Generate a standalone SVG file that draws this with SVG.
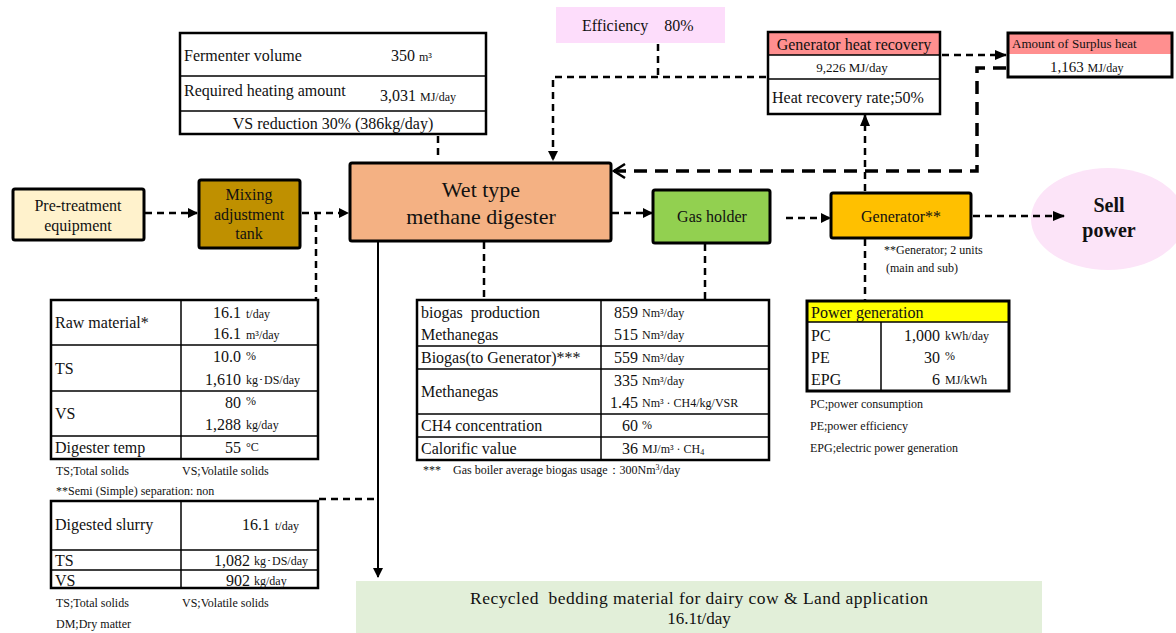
<svg xmlns="http://www.w3.org/2000/svg" width="1176" height="633" viewBox="0 0 1176 633" font-family="'Liberation Serif', 'DejaVu Serif', serif">
<defs>
<marker id="arr" markerWidth="10" markerHeight="10" refX="9" refY="5" orient="auto" markerUnits="userSpaceOnUse" viewBox="0 0 10 10">
<path d="M0,0 L10,5 L0,10 z" fill="#000"/>
</marker>
<marker id="arrS" markerWidth="12" markerHeight="12" refX="11" refY="6" orient="auto" markerUnits="userSpaceOnUse" viewBox="0 0 12 12">
<path d="M0,1 L12,6 L0,11 z" fill="#000"/>
</marker>
<marker id="chev" markerWidth="16" markerHeight="16" refX="14" refY="8" orient="auto" markerUnits="userSpaceOnUse" viewBox="0 0 16 16">
<path d="M3,1 L14,8 L3,15" fill="none" stroke="#000" stroke-width="2.5"/>
</marker>
</defs>
<style>
text{font-family:'Liberation Serif','DejaVu Serif',serif;fill:#111;}
.t{font-size:16px;}
.s{font-size:12px;}
.n{font-size:12px;}
.c{text-anchor:middle;}
.e{text-anchor:end;}
.dash{fill:none;stroke:#000;stroke-width:2.5;stroke-dasharray:7,5;}
.dashb{fill:none;stroke:#000;stroke-width:3.5;stroke-dasharray:13,8;}
.sol{fill:none;stroke:#000;stroke-width:2;}
.box{stroke:#000;stroke-width:3;}
.tb{fill:#fff;stroke:#000;stroke-width:2.5;}
.ln{stroke:#000;stroke-width:1.5;}
</style>

<g id="fermenter-table">
<rect class="tb" x="180" y="33" width="306" height="101"/>
<line class="ln" x1="180" y1="76" x2="486" y2="76"/>
<line class="ln" x1="180" y1="111" x2="486" y2="111"/>
<text class="t" x="184" y="61">Fermenter volume</text>
<text class="t" x="391" y="61">350 <tspan class="s">m³</tspan></text>
<text class="t" x="184" y="96">Required heating amount</text>
<text class="t" x="380" y="101">3,031 <tspan class="s">MJ/day</tspan></text>
<text class="t c" x="333" y="129">VS reduction 30% (386kg/day)</text>
</g>

<g id="efficiency">
<rect x="556" y="7" width="169" height="36" fill="#FDDDFB"/>
<text class="t" x="582" y="31" xml:space="preserve">Efficiency    80%</text>
</g>

<g id="heat-recovery">
<rect x="768" y="32" width="172" height="82" fill="#fff"/>
<rect x="768" y="32" width="172" height="23" fill="#FF8F8F"/>
<rect x="768" y="32" width="172" height="82" fill="none" stroke="#000" stroke-width="2.5"/>
<line class="ln" x1="768" y1="55" x2="940" y2="55"/>
<line class="ln" x1="768" y1="79" x2="940" y2="79"/>
<text class="t c" x="854" y="50">Generator heat recovery</text>
<text class="c" x="852" y="72" font-size="13">9,226 MJ/day</text>
<text class="t" x="772" y="103">Heat recovery rate;50%</text>
</g>

<g id="surplus-heat">
<rect x="1008" y="33" width="164" height="44" fill="#fff"/>
<rect x="1008" y="33" width="164" height="21" fill="#FF8F8F"/>
<rect x="1008" y="33" width="164" height="44" fill="none" stroke="#000" stroke-width="3"/>
<text x="1012" y="48" font-size="13">Amount of Surplus heat</text>
<text x="1050" y="72" font-size="15">1,163 <tspan font-size="12">MJ/day</tspan></text>
</g>

<g id="pretreatment">
<rect class="box" x="13" y="189" width="131" height="51" rx="2" fill="#FFF2CC"/>
<text class="t c" x="78" y="211">Pre-treatment</text>
<text class="t c" x="78" y="231">equipment</text>
</g>

<g id="mixing-tank">
<rect class="box" x="199" y="180" width="101" height="68" rx="2" fill="#BF9000"/>
<text class="t c" x="249" y="200">Mixing</text>
<text class="t c" x="249" y="220">adjustment</text>
<text class="t c" x="249" y="239">tank</text>
</g>

<g id="digester">
<rect class="box" x="350" y="163" width="261" height="78" rx="2" fill="#F4B183"/>
<text class="c" x="481" y="197" font-size="22">Wet type</text>
<text class="c" x="481" y="224" font-size="22">methane digester</text>
</g>

<g id="gas-holder">
<rect class="box" x="653" y="190" width="117" height="53" rx="2" fill="#92D050"/>
<text class="c" x="712" y="222" font-size="16">Gas holder</text>
</g>

<g id="generator">
<rect class="box" x="831" y="193" width="140" height="45" rx="2" fill="#FFC000"/>
<text class="c" x="901" y="222" font-size="16">Generator**</text>
<text class="n" x="884" y="254">**Generator; 2 units</text>
<text class="n" x="886" y="272">(main and sub)</text>
</g>

<g id="sell-power">
<ellipse cx="1108" cy="219" rx="77" ry="51" fill="#FCE4F8"/>
<text class="c" x="1109" y="212" font-size="20" font-weight="bold">Sell</text>
<text class="c" x="1109" y="237" font-size="20" font-weight="bold">power</text>
</g>

<g id="raw-material-table">
<rect class="tb" x="51" y="300" width="267" height="159"/>
<line class="ln" x1="181" y1="300" x2="181" y2="459"/>
<line class="ln" x1="51" y1="345" x2="318" y2="345"/>
<line class="ln" x1="51" y1="391" x2="318" y2="391"/>
<line class="ln" x1="51" y1="436" x2="318" y2="436"/>
<text class="t" x="55" y="328">Raw material*</text>
<text class="t e" x="241" y="318">16.1</text><text class="s" x="246" y="318">t/day</text>
<text class="t e" x="241" y="339">16.1</text><text class="s" x="246" y="339">m³/day</text>
<text class="t" x="55" y="374">TS</text>
<text class="t e" x="241" y="362">10.0</text><text class="s" x="246" y="360">%</text>
<text class="t e" x="241" y="385">1,610</text><text class="s" x="246" y="384">kg･DS/day</text>
<text class="t" x="55" y="419">VS</text>
<text class="t e" x="241" y="408">80</text><text class="s" x="246" y="405">%</text>
<text class="t e" x="241" y="430">1,288</text><text class="s" x="246" y="429">kg/day</text>
<text class="t" x="55" y="453">Digester temp</text>
<text class="t e" x="241" y="453">55</text><text class="s" x="246" y="451">°C</text>
<text class="n" x="56" y="475">TS;Total solids</text>
<text class="n" x="182" y="475">VS;Volatile solids</text>
<text class="n" x="56" y="495">**Semi (Simple) separation: non</text>
</g>

<g id="slurry-table">
<rect class="tb" x="51" y="501" width="267" height="87"/>
<line class="ln" x1="181" y1="501" x2="181" y2="588"/>
<line class="ln" x1="51" y1="550" x2="318" y2="550"/>
<line class="ln" x1="51" y1="570" x2="318" y2="570"/>
<text class="t" x="55" y="530">Digested slurry</text>
<text class="t e" x="270" y="530">16.1</text><text class="s" x="275" y="530">t/day</text>
<text class="t e" x="250" y="566">1,082</text><text class="s" x="254" y="565">kg･DS/day</text>
<text class="t" x="55" y="566">TS</text>
<text class="t" x="55" y="586">VS</text>
<text class="t e" x="250" y="586">902</text><text class="s" x="254" y="585">kg/day</text>
<text class="n" x="56" y="607">TS;Total solids</text>
<text class="n" x="182" y="607">VS;Volatile solids</text>
<text class="n" x="56" y="628">DM;Dry matter</text>
</g>

<g id="biogas-table">
<rect class="tb" x="417" y="300" width="352" height="160"/>
<line class="ln" x1="601" y1="300" x2="601" y2="460"/>
<line class="ln" x1="417" y1="346" x2="769" y2="346"/>
<line class="ln" x1="417" y1="369" x2="769" y2="369"/>
<line class="ln" x1="417" y1="414" x2="769" y2="414"/>
<line class="ln" x1="417" y1="437" x2="769" y2="437"/>
<text class="t" x="421" y="318" xml:space="preserve">biogas  production</text>
<text class="t" x="421" y="340">Methanegas</text>
<text class="t" x="421" y="363">Biogas(to Generator)***</text>
<text class="t" x="421" y="397">Methanegas</text>
<text class="t" x="421" y="431">CH4 concentration</text>
<text class="t" x="421" y="454">Calorific value</text>
<text class="t e" x="638" y="318">859</text><text class="s" x="642" y="317">Nm³/day</text>
<text class="t e" x="638" y="340">515</text><text class="s" x="642" y="339">Nm³/day</text>
<text class="t e" x="638" y="363">559</text><text class="s" x="642" y="362">Nm³/day</text>
<text class="t e" x="638" y="386">335</text><text class="s" x="642" y="385">Nm³/day</text>
<text class="t e" x="638" y="408">1.45</text><text class="s" x="642" y="407" xml:space="preserve">Nm³ · CH4/kg/VSR</text>
<text class="t e" x="638" y="431">60</text><text class="s" x="642" y="429">%</text>
<text class="t e" x="638" y="454">36</text><text class="s" x="642" y="453">MJ/m³ · CH<tspan font-size="8" dy="2">4</tspan></text>
<text class="n" x="423" y="474" xml:space="preserve">***    Gas boiler average biogas usage：300Nm<tspan font-size="8" dy="-4">3</tspan><tspan dy="4">/day</tspan></text>
</g>

<g id="power-table">
<rect x="807" y="301" width="202" height="90" fill="#fff"/>
<rect x="807" y="301" width="202" height="21" fill="#FFFF00"/>
<rect x="807" y="301" width="202" height="90" fill="none" stroke="#000" stroke-width="3"/>
<line class="ln" x1="807" y1="322" x2="1009" y2="322"/>
<line class="ln" x1="881" y1="322" x2="881" y2="391"/>
<text class="t" x="811" y="318">Power generation</text>
<text class="t" x="811" y="341">PC</text>
<text class="t" x="811" y="363">PE</text>
<text class="t" x="811" y="385">EPG</text>
<text class="t e" x="940" y="341">1,000</text><text class="s" x="945" y="340">kWh/day</text>
<text class="t e" x="940" y="363">30</text><text class="s" x="945" y="360">%</text>
<text class="t e" x="940" y="385">6</text><text class="s" x="945" y="384">MJ/kWh</text>
<text class="n" x="810" y="408">PC;power consumption</text>
<text class="n" x="810" y="430">PE;power efficiency</text>
<text class="n" x="810" y="452">EPG;electric power generation</text>
</g>

<g id="recycled">
<rect x="356" y="581" width="686" height="52" fill="#E2EFD9"/>
<text class="c" x="699" y="604" font-size="17.5" xml:space="preserve" textLength="458" lengthAdjust="spacing">Recycled  bedding material for dairy cow &amp; Land application</text>
<text class="c" x="699" y="624" font-size="17">16.1t/day</text>
</g>

<g id="connectors">
<path class="dash" d="M438,136 V160"/>
<path class="dash" d="M658,44 V77"/>
<path class="dash" d="M766,77 H553 V160" marker-end="url(#arr)"/>
<path class="dash" d="M942,55 H1006" marker-end="url(#arrS)"/>
<path class="dashb" d="M1006,68 H977 V171 H614" marker-end="url(#chev)"/>
<path class="dash" d="M145,213 H197" marker-end="url(#arr)"/>
<path class="dash" d="M302,213 H348" marker-end="url(#arr)"/>
<path class="dash" d="M316,213 V299"/>
<path class="dash" d="M612,213 H652" marker-end="url(#arr)"/>
<path class="dash" d="M786,218 H830" marker-end="url(#arr)"/>
<path class="dash" d="M973,216 H1064" marker-end="url(#arrS)"/>
<path class="dash" d="M865,191 V115" marker-end="url(#arrS)"/>
<path class="dash" d="M865,239 V300"/>
<path class="dash" d="M484,242 V299"/>
<path class="dash" d="M705,244 V299"/>
<path class="sol" d="M378,242 V577" marker-end="url(#arr)"/>
<path class="dash" d="M319,499 H378"/>
</g>
</svg>
